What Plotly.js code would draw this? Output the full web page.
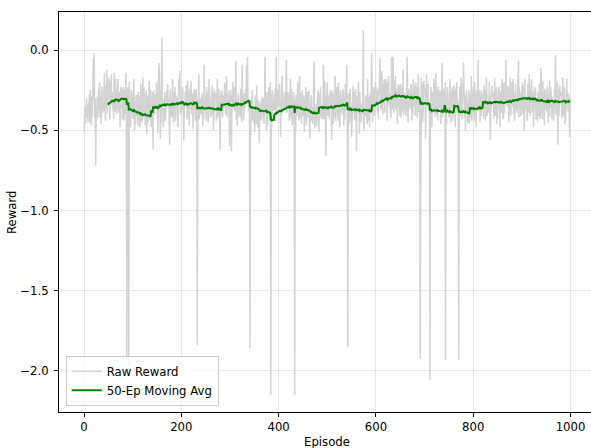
<!DOCTYPE html>
<html><head><meta charset="utf-8">
<script src="https://cdn.plot.ly/plotly-3.0.1.min.js"></script>
<style>html,body{margin:0;padding:0;background:#fff;}#chart{width:591px;height:448px;}</style>
</head><body><div id="chart"></div>
<script>
// Raw reward per episode (episodes 0..999)
const rawReward = [
-.51,-.44,-.35,-.46,-.38,-.30,-.42,-.36,-.45,-.33,
-.36,-.28,-.45,-.25,-.33,-.47,-.29,-.42,-.30,-.05,
-.30,-.02,-.42,-.30,-.72,-.41,-.44,-.29,-.42,-.37,
-.24,-.37,-.20,-.42,-.29,-.46,-.26,-.23,-.39,-.34,
-.38,-.25,-.14,-.35,-.44,-.22,-.36,-.12,-.40,-.24,
-.23,-.17,-.36,-.43,-.19,-.32,-.15,-.34,-.26,-.35,
-.36,-.43,-.14,-.26,-.38,-.18,-.35,-.40,-.25,-.25,
-.18,-.39,-.34,-.26,-.48,-.29,-.23,-.36,-.24,-.43,
-.35,-.23,-.44,-.25,-.30,-.40,-.14,-.42,-1.93,-.29,
-.23,-.37,-1.97,-.20,-.40,-.28,-.48,-.25,-.27,-.38,
-.38,-.43,-.18,-.30,-.50,-.38,-.46,-.28,-.41,-.28,
-.31,-.47,-.26,-.39,-.29,-.48,-.42,-.21,-.32,-.45,
-.43,-.17,-.42,-.23,-.40,-.27,-.47,-.44,-.25,-.52,
-.30,-.28,-.45,-.40,-.19,-.43,-.31,-.25,-.48,-.41,
-.36,-.26,-.62,-.25,-.31,-.40,-.28,-.36,-.36,-.20,
-.38,-.48,-.52,-.20,-.08,-.15,-.33,-.55,-.25,-.45,
.08,-.33,-.31,-.48,-.34,-.40,-.26,-.44,-.37,-.29,
-.25,-.32,-.21,-.36,-.30,-.40,-.59,-.24,-.40,-.35,
-.42,-.29,-.18,-.39,-.45,-.26,-.36,-.23,-.44,-.28,
-.36,-.30,-.47,-.48,-.32,-.18,-.28,-.13,-.38,-.40,
-.33,-.38,-.23,-.24,-.38,-.56,-.38,-.35,-.26,-.28,
-.22,-.36,-.43,-.19,-.39,-.27,-.47,-.24,-.26,-.37,
-.19,-.40,-.35,-.27,-.49,-.30,-.24,-.37,-.25,-.44,
-.36,-.24,-.45,-1.84,-.31,-.41,-.15,-.43,-.39,-.30,
-.35,-.40,-.30,-.27,-.47,-.30,-.43,-.09,-.38,-.31,
-.28,-.44,-.23,-.36,-.26,-.45,-.39,-.18,-.29,-.42,
-.42,-.33,-.41,-.22,-.39,-.26,-.50,-.43,-.24,-.30,
-.29,-.27,-.44,-.39,-.18,-.42,-.30,-.24,-.47,-.40,
-.62,-.26,-.38,-.25,-.31,-.42,-.28,-.36,-.32,-.20,
-.31,-.40,-.38,-.16,-.42,-.32,-.27,-.37,-.25,-.60,
-.38,-.27,-.25,-.63,-.28,-.33,-.20,-.36,-.37,-.23,
-.29,-.38,-.07,-.43,-.30,-.47,-.27,-.27,-.40,-.35,
-.42,-.29,-.24,-.39,-.45,-.09,-.36,-.27,-.44,-.28,
-.27,-.36,-.24,-.33,-.10,-.33,-.04,-.29,-.36,-.38,
-.33,-1.86,-.46,-.53,-.29,-.42,-.25,-.44,-.36,-.45,
-.44,-.51,-.28,-.34,-.46,-.22,-.43,-.48,-.31,-.33,
-.58,-.38,-.40,-.32,-.44,-.35,-.29,-.42,-.30,-.41,
-.46,-.35,-.04,-.37,-.35,-.50,-.26,-.47,-.43,-.38,
-.23,-.37,-.44,-.20,-2.15,-.28,-.48,-.25,-.27,-.38,
-.32,-.37,-.27,-.24,-.44,-.04,-.40,-.24,-.35,-.25,
-.26,-.35,-.21,-.34,-.54,-.36,-.37,-.16,-.27,-.32,
-.38,-.35,-.37,-.26,-.35,-.29,-.06,-.39,-.29,-.26,
-.29,-.27,-.44,-.39,-.18,-.42,-.30,-.24,-.47,-.40,
-.45,-.26,-.38,-2.15,-.31,-.50,-.28,-.36,-.41,-.20,
-.31,-.40,-.44,-.16,-.42,-.32,-.27,-.46,-.25,-.37,
-.41,-.30,-.28,-.51,-.31,-.43,-.23,-.47,-.40,-.26,
-.29,-.42,-.25,-.39,-.55,-.44,-.31,-.28,-.44,-.39,
-.46,-.33,-.30,-.07,-.49,-.37,-.40,-.34,-.48,-.35,
-.31,-.25,-.44,-.51,-.27,-.40,-.23,-.42,-.34,-.43,
-.41,-.43,-.09,-.31,-.43,-.19,-.40,-.66,-.28,-.30,
-.20,-.41,-.36,-.28,-.43,-.31,-.25,-.34,-.26,-.56,
-.37,-.25,-.46,-.27,-.32,-.42,-.16,-.44,-.40,-.31,
-.23,-.37,-.44,-.20,-.40,-.28,-.48,-.25,-.27,-.38,
-.35,-.40,-.24,-.27,-.47,-.30,-.43,-.21,-.38,-.25,
-.09,-.45,-1.855,-.42,-.27,-.46,-.40,-.24,-.30,-.43,
-.54,-.33,-.41,-.22,-.39,-.26,-.44,-.37,-.24,-.30,
-.63,-.29,-.38,-.33,-.20,-.36,-.52,-.26,-.41,-.34,
-.45,-.33,-.38,-.32,.127,-.50,-.36,-.36,-.41,-.28,
-.33,-.42,-.46,-.18,-.44,-.34,-.29,-.48,-.27,-.39,
-.35,-.02,-.28,-.45,-.25,-.37,-.23,-.41,-.34,-.20,
-.28,-.34,-.24,-.39,-.26,-.43,-.23,-.27,-.05,-.31,
-.37,-.24,-.13,-.34,-.40,-.21,-.31,-.18,-.39,-.23,
-.24,-.18,-.37,-.44,-.20,-.33,-.16,-.35,-.27,-.36,
-.41,-.42,-.04,-.31,-.37,-.04,-.34,-.39,-.28,-.24,
-.16,-.37,-.32,-.24,-.46,-.27,-.21,-.34,-.22,-.41,
-.33,-.21,-.42,-.23,-.28,-.38,-.12,-.40,-.36,-.27,
-.27,-.34,-.41,-.25,-.04,-.25,-.45,-.30,-.24,-.35,
-.32,-.37,-.21,-.24,-.44,-.27,-.40,-.18,-.35,-.22,
-.25,-.41,-.20,-.33,-.23,-.42,-.36,-.15,-.26,-.39,
-.37,-1.925,-.36,-.17,-.34,-.21,-.45,-.38,-.19,-.25,
-.26,-.24,-.55,-.36,-.15,-.32,-.27,-.21,-.37,-.37,
-.43,-2.06,-.36,-.23,-.29,-.48,-.26,-.34,-.39,-.18,
-.29,-.38,-.42,-.14,-.40,-.30,-.25,-.44,-.23,-.35,
-.36,-.25,-.28,-.46,-.26,-.38,-.08,-.42,-.35,-.26,
-.24,-.37,-.20,-1.935,-.29,-.46,-.26,-.23,-.39,-.34,
-.42,-.29,-.18,-.39,-.45,-.26,-.36,-.23,-.44,-.28,
-.28,-.22,-.41,-.48,-.24,-.37,-.20,-.39,-.31,-.40,
-1.935,-.46,-.23,-.29,-.41,-.17,-.38,-.43,-.26,-.28,
-.075,-.41,-.42,-.28,-.50,-.31,-.25,-.38,-.32,-.45,
-.37,-.25,-.46,-.27,-.32,-.42,-.16,-.44,-.40,-.31,
-.23,-.37,-.44,-.20,-.40,-.28,-.48,-.25,-.27,-.38,
-.06,-.38,-.28,-.25,-.45,-.28,-.41,-.25,-.36,-.28,
-.27,-.43,-.22,-.35,-.25,-.44,-.38,-.17,-.28,-.41,
-.33,-.31,-.39,-.20,-.37,-.56,-.40,-.34,-.22,-.28,
-.28,-.26,-.43,-.38,-.17,-.41,-.29,-.23,-.46,-.39,
-.43,-.24,-.36,-.23,-.29,-.48,-.26,-.34,-.39,-.18,
-.28,-.43,-.41,-.20,-.39,-.29,-.31,-.06,-.29,-.34,
-.35,-.24,-.22,-.45,-.25,-.37,-.17,-.41,-.34,-.20,
-.22,-.35,-.18,-.40,-.27,-.44,-.24,-.21,-.37,-.32,
-.39,-.26,-.22,-.065,-.42,-.23,-.33,-.27,-.41,-.31,
-.26,-.20,-.39,-.40,-.22,-.50,-.18,-.37,-.29,-.34,
-.37,-.44,-.21,-.27,-.39,-.15,-.36,-.41,-.24,-.26,
-.18,-.39,-.34,-.26,-.48,-.29,-.23,-.36,-.24,-.43,
-.36,-.30,-.45,-.26,-.31,-.41,-.21,-.43,-.39,-.11,
-.22,-.36,-.43,-.19,-.39,-.27,-.47,-.24,-.26,-.37,
-.33,-.38,-.22,-.25,-.45,-.28,-.41,-.19,-.36,-.23,
-.27,-.43,-.29,-.35,-.32,-.44,-.38,-.24,-.35,-.03,
-.40,-.31,-.39,-.20,-.59,-.24,-.41,-.33,-.22,-.28,
-.28,-.26,-.43,-.38,-.17,-.41,-.29,-.23,-.46,-.39,
-.44,-.25,-.18,-.30,-.30,-.38,-.27,-.35,-.54,-.30
];
const windowSize = 50;
const seriesNames = ['Raw Reward', '50-Ep Moving Avg'];
const xTickVals = [0, 200, 400, 600, 800, 1000];
const xTickText = ['0', '200', '400', '600', '800', '1000'];
const yTickVals = [0, -0.5, -1, -1.5, -2];
const yTickText = ['0.0', '\u22120.5', '\u22121.0', '\u22121.5', '\u22122.0'];
const xLabel = 'Episode';
const yLabel = 'Reward';

const episodes = rawReward.map((_, i) => i);
const maX = [], maY = [];
for (let i = windowSize - 1; i < rawReward.length; i++) {
  let s = 0;
  for (let j = i - windowSize + 1; j <= i; j++) s += rawReward[j];
  maX.push(i); maY.push(s / windowSize);
}

const font = {family: 'DejaVu Sans, sans-serif', size: 11.7, color: '#000'};
const grid = 'rgba(176,176,176,0.3)';
const traces = [
  {x: episodes, y: rawReward, type: 'scatter', mode: 'lines', name: seriesNames[0],
   line: {color: '#d3d3d3', width: 1.5}},
  {x: maX, y: maY, type: 'scatter', mode: 'lines', name: seriesNames[1],
   line: {color: '#008000', width: 2}}
];
const axisCommon = {ticks: 'outside', ticklen: 4, tickwidth: 1, tickcolor: '#000',
  showline: true, linecolor: '#000', linewidth: 1, showgrid: true, gridcolor: grid,
  gridwidth: 1, zeroline: false, tickfont: font};
const layout = {
  width: 591, height: 448,
  margin: {l: 59, r: 0, t: 12, b: 36, pad: 0},
  paper_bgcolor: '#fff', plot_bgcolor: '#fff',
  font: font, showlegend: true,
  legend: {x: 0.0126, y: 0.0157, xanchor: 'left', yanchor: 'bottom',
    bgcolor: 'rgba(255,255,255,0.8)', bordercolor: '#cccccc', borderwidth: 1, font: font,
    tracegroupgap: 0},
  xaxis: Object.assign({}, axisCommon, {range: [-51.4, 1042], tickmode: 'array',
    tickvals: xTickVals, ticktext: xTickText, mirror: true}),
  yaxis: Object.assign({}, axisCommon, {range: [-2.258, 0.239], tickmode: 'array',
    tickvals: yTickVals, ticktext: yTickText, mirror: false, ticklabelstandoff: 3}),
  annotations: [
    {text: xLabel, xref: 'paper', yref: 'paper', x: 0.504, y: 0, xanchor: 'center',
     yanchor: 'top', yshift: -21, showarrow: false, font: font},
    {text: yLabel, xref: 'paper', yref: 'paper', x: 0, y: 0.5, xanchor: 'center',
     yanchor: 'middle', xshift: -47, textangle: -90, showarrow: false, font: font}
  ]
};
Plotly.newPlot('chart', traces, layout, {displayModeBar: false, staticPlot: true});
</script>
</body></html>
